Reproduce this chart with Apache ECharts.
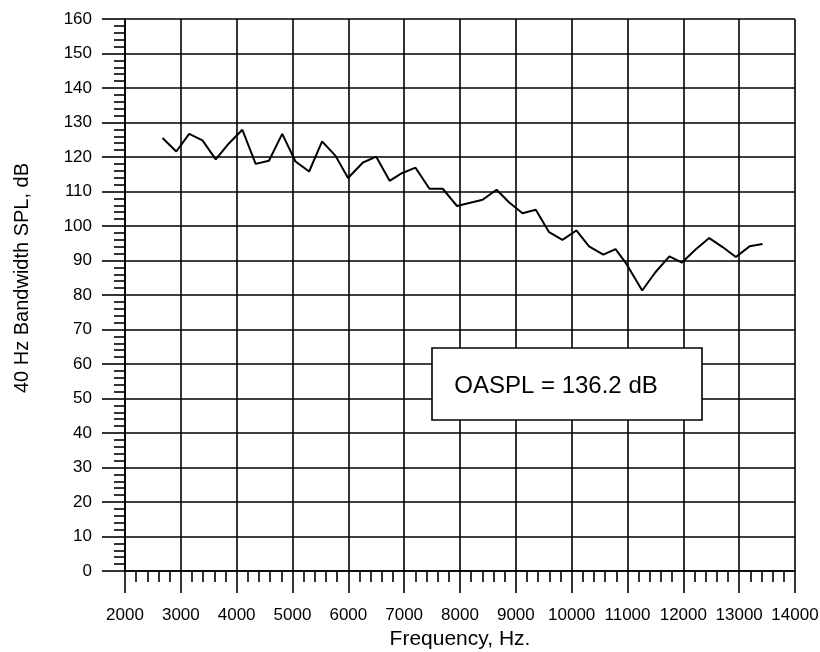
<!DOCTYPE html>
<html>
<head>
<meta charset="utf-8">
<script src="https://cdn.jsdelivr.net/npm/echarts@6/dist/echarts.min.js"></script>
<style>html,body{margin:0;padding:0;background:#fff}#c{width:820px;height:652px}</style>
</head>
<body>
<div id="c"></div>
<script>
const freqHz = [2673, 2918, 3150, 3388, 3625, 3864, 4102, 4340, 4578, 4816, 5054, 5298, 5530, 5768, 5995, 6262, 6500, 6739, 6959, 7203, 7453, 7691, 7946, 8405, 8655, 8882, 9120, 9357, 9596, 9834, 10084, 10311, 10566, 10786, 10965, 11263, 11500, 11750, 11977, 12214, 12464, 12704, 12941, 13186, 13418];
const splDb = [125.5, 121.6, 126.7, 124.8, 119.3, 124.0, 127.9, 118.0, 118.9, 126.7, 118.7, 115.8, 124.5, 120.4, 113.9, 118.4, 120.1, 113.1, 115.3, 116.9, 110.8, 110.8, 105.8, 107.6, 110.5, 106.8, 103.7, 104.7, 98.2, 96.0, 98.7, 94.1, 91.7, 93.3, 89.4, 81.3, 86.6, 91.2, 89.4, 93.1, 96.5, 93.9, 91.0, 94.1, 94.8];
const xTicks = {min: 2000, max: 14000, interval: 1000};
const yTicks = {min: 0, max: 160, interval: 10};
const xTitle = 'Frequency, Hz.';
const yTitle = '40 Hz Bandwidth SPL, dB';
const noteText = 'OASPL = 136.2 dB';

const FONT = "'Liberation Sans', Arial, sans-serif";
const chart = echarts.init(document.getElementById('c'), null, {renderer: 'canvas'});
const lineStyleGrid = {color: '#000', width: 1.6};
chart.setOption({
  animation: false,
  backgroundColor: '#fff',
  grid: {left: 125, right: 25, top: 19, bottom: 81, outerBoundsMode: 'none', containLabel: false},
  xAxis: {
    type: 'value', min: xTicks.min, max: xTicks.max, interval: xTicks.interval,
    name: xTitle, nameLocation: 'middle', nameGap: 49,
    nameTextStyle: {fontFamily: FONT, fontSize: 21, color: '#000'},
    axisLine: {show: true, lineStyle: {color: '#000', width: 1.6}},
    axisTick: {show: true, inside: false, length: 22, lineStyle: {color: '#000', width: 1.6}},
    minorTick: {show: true, splitNumber: 5, length: 11, lineStyle: {color: '#000', width: 1.6}},
    axisLabel: {margin: 36, fontFamily: FONT, fontSize: 17, color: '#000', showMinLabel: true, showMaxLabel: true, hideOverlap: false,
      formatter: v => String(v)},
    splitLine: {show: true, lineStyle: lineStyleGrid}
  },
  yAxis: {
    type: 'value', min: yTicks.min, max: yTicks.max, interval: yTicks.interval,
    axisLine: {show: true, lineStyle: {color: '#000', width: 1.6}},
    axisTick: {show: true, inside: false, length: 23, lineStyle: {color: '#000', width: 1.6}},
    minorTick: {show: true, splitNumber: 5, length: 11, lineStyle: {color: '#000', width: 1.6}},
    axisLabel: {margin: 33, fontFamily: FONT, fontSize: 17, color: '#000', showMinLabel: true, showMaxLabel: true,
      formatter: v => String(v)},
    splitLine: {show: true, lineStyle: lineStyleGrid}
  },
  series: [{
    type: 'line',
    data: freqHz.map((f, i) => [f, splDb[i]]),
    symbol: 'none',
    lineStyle: {color: '#000', width: 2},
    z: 3
  }],
  graphic: [
    {
      type: 'text', x: 22, y: 278, rotation: Math.PI / 2, z: 100,
      style: {text: yTitle, fontFamily: FONT, fontSize: 20, fill: '#000', textAlign: 'center', textVerticalAlign: 'middle'}
    },
    {type: 'rect', z: 100, shape: {x: 432, y: 348, width: 270, height: 72}, style: {fill: '#fff', stroke: '#000', lineWidth: 1.6}},
    {type: 'text', z: 101, x: 556, y: 386, style: {text: noteText, fontFamily: FONT, fontSize: 24, fill: '#000', textAlign: 'center', textVerticalAlign: 'middle'}}
  ]
});
</script>
</body>
</html>
